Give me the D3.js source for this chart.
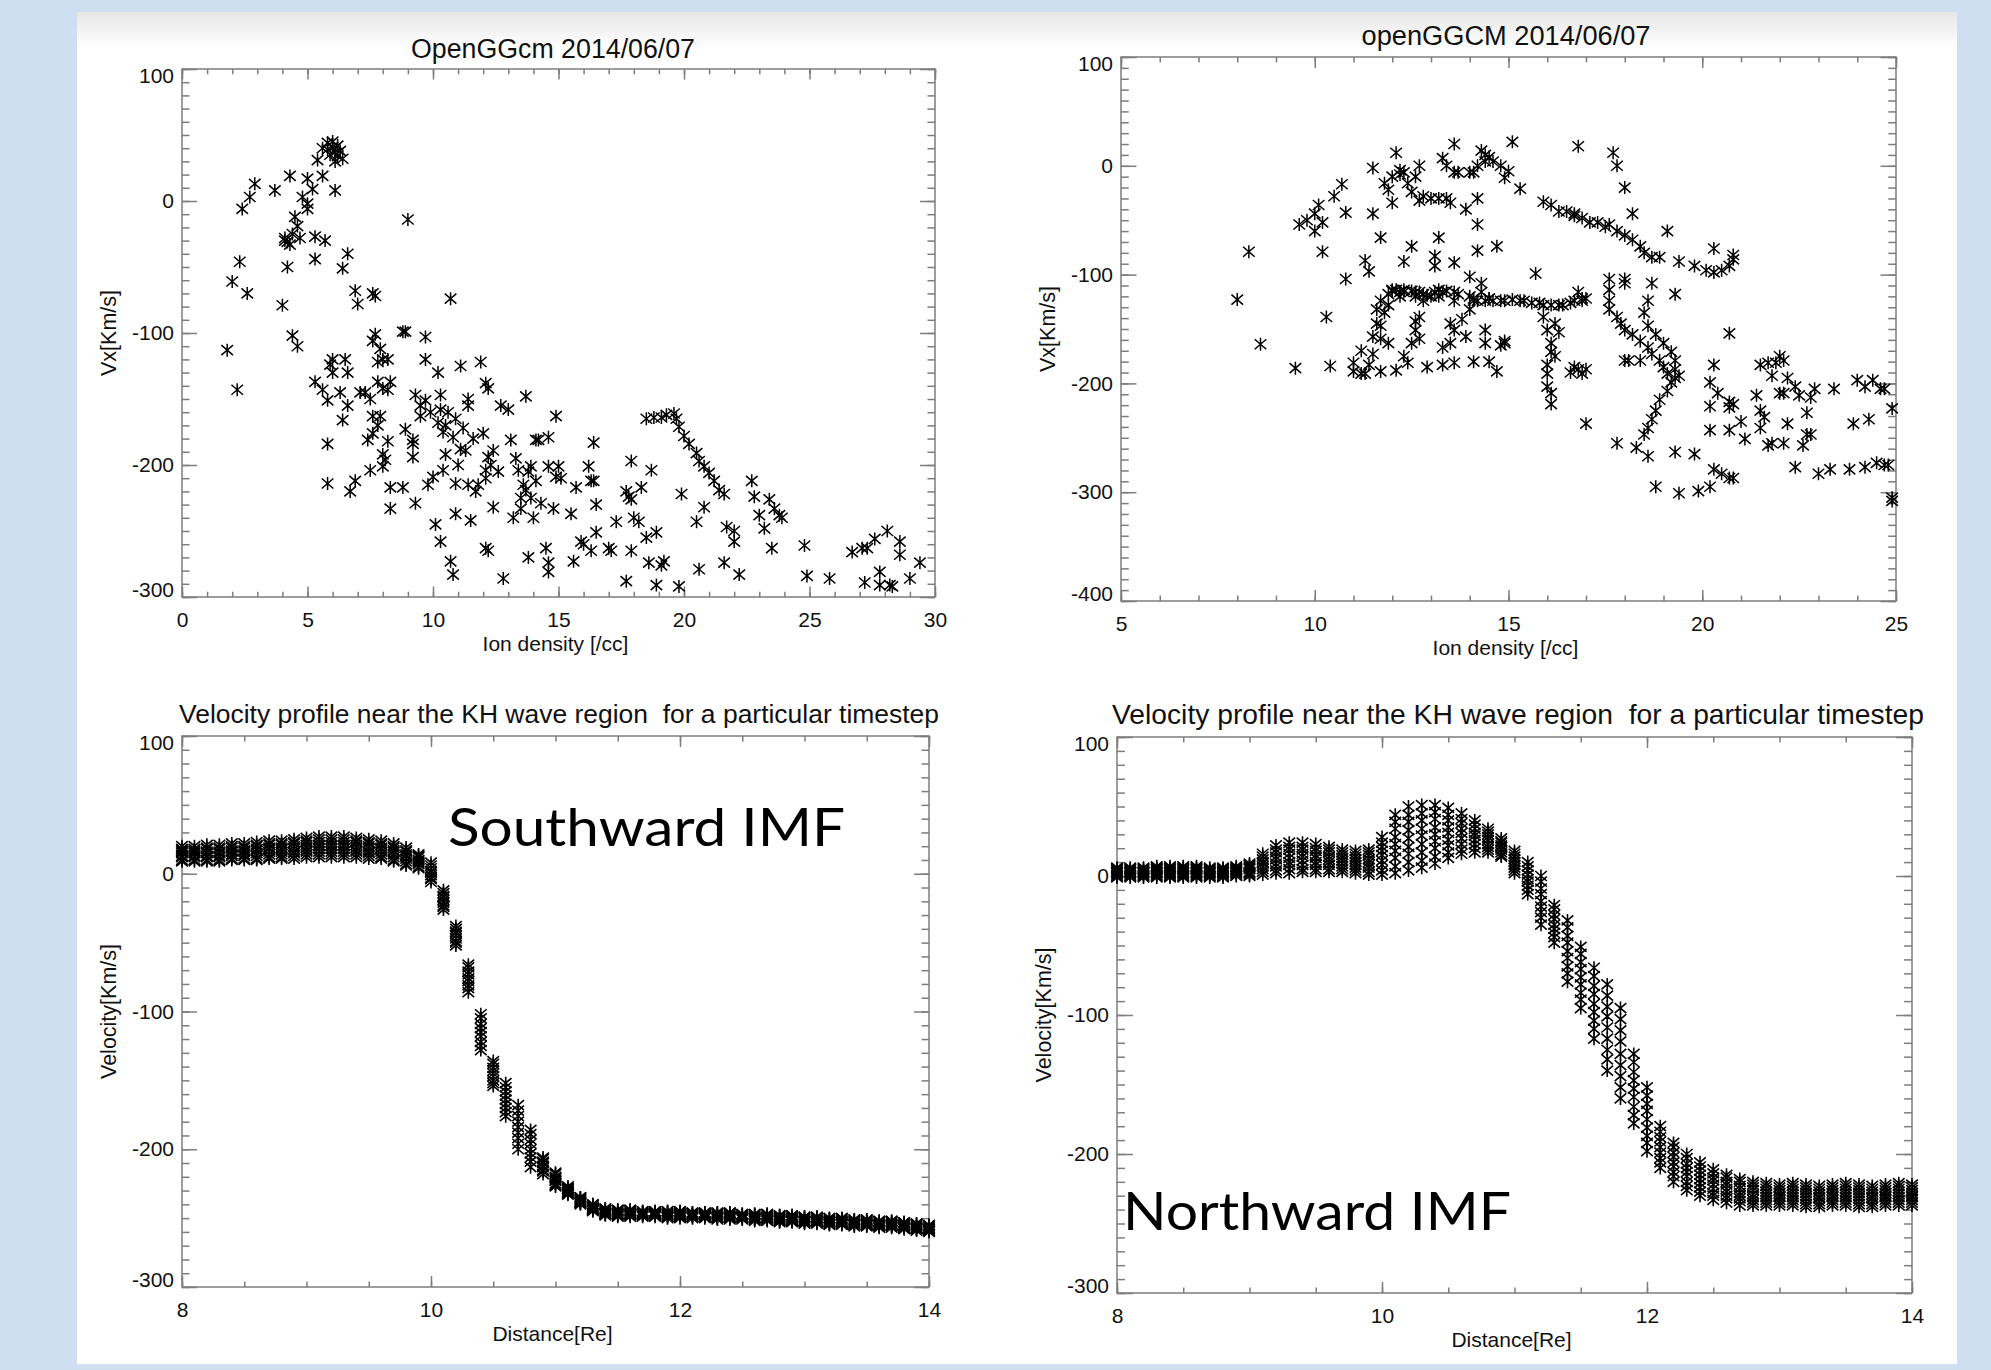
<!DOCTYPE html>
<html lang="en">
<head>
<meta charset="UTF-8">
<title>openGGCM velocity plots</title>
<script src="https://cdn.jsdelivr.net/npm/d3@7"></script>
<style>
    body{
        margin: 0;
        background: #cfdff1;
    }
    svg{
        display: block;
    }
    .lbl{
        font-family: "Liberation Sans", Arial, sans-serif;
        fill: #111;
    }
    .note{
        font-family: Lato, "Open Sans", sans-serif;
        fill: #000;
    }
</style>
</head>
<body>
<svg id="fig" width="1991" height="1370"></svg>
<script>
// ---- top-left scatter: [ion density, Vx] ----
const scatterLeft = [
    [1.8,-113],[2.2,-143],[2.0,-61],[2.3,-46],[2.6,-70],[2.4,-6],[2.7,3],[2.9,13],[3.7,8],[4.0,-79],[4.2,-50],[4.3,19],[4.4,-102],[4.6,-110],
    [4.1,-28],[4.2,-31],[4.4,-25],[4.5,-12],[4.6,-19],[4.7,-28],[4.8,3],[5.0,-2],[5.0,-6],[5.0,17],[5.2,9],[5.3,-44],[5.3,-27],[5.4,31],
    [5.6,19],[5.7,-30],[5.6,40],[6.1,8],[6.0,45],[6.1,37],[6.2,42],[5.8,44],[6.4,32],[6.2,34],[5.8,39],[6.0,41],[6.1,30],[6.3,38],[5.9,35],
    [4.1,-30],[4.3,-33],[6.4,-51],[6.6,-40],[6.9,-68],[7.0,-78],[7.6,-70],[7.7,-72],[9.0,-14],[10.7,-74],
    [5.8,-214],[5.8,-184],[5.3,-137],[5.6,-143],[5.8,-151],[6.0,-120],[6.0,-130],[5.9,-124],[6.5,-120],[6.6,-130],[6.3,-145],[6.4,-166],
    [6.6,-155],[7.1,-145],[7.3,-145],[7.5,-150],[7.4,-181],[7.5,-204],[6.9,-212],[6.7,-220],[7.6,-106],[7.7,-101],[7.8,-122],[7.9,-112],
    [8.0,-120],[8.2,-120],[7.8,-137],[8.0,-142],[8.2,-143],[8.3,-137],[7.6,-163],[7.9,-163],[7.8,-170],[7.6,-176],[8.0,-192],[8.1,-196],
    [8.0,-201],[8.2,-182],[8.3,-217],[8.3,-233],[8.8,-217],[8.8,-99],[8.9,-99],[8.9,-173],[9.2,-181],[9.2,-184],[9.2,-194],[9.3,-229],
    [9.3,-147],[9.5,-155],[9.7,-151],[9.5,-163],[9.7,-103],[9.7,-120],[9.8,-215],[10.0,-209],[10.2,-130],[10.3,-147],[10.2,-168],[10.3,-158],
    [10.1,-245],[10.3,-258],[10.4,-204],[10.5,-192],[10.5,-170],[10.7,-273],[10.8,-283],[10.9,-237],[10.8,-179],[10.9,-214],[11.1,-125],
    [11.1,-188],[11.3,-189],[11.4,-155],[11.4,-150],[11.4,-215],[11.5,-242],[11.7,-220],[11.9,-122],[12.1,-138],[12.2,-142],[12.0,-176],
    [12.1,-204],[12.1,-210],[12.2,-194],[12.4,-232],[12.1,-263],[12.2,-265],[12.4,-189],[12.7,-155],[12.8,-286],[13.0,-158],[13.1,-181],
    [13.2,-240],[13.4,-204],[13.5,-233],[13.6,-215],[13.7,-148],[13.7,-219],[13.8,-270],[13.9,-201],[14.1,-181],[14.1,-212],[14.2,-181],
    [14.3,-229],[14.5,-263],[14.6,-201],[14.6,-179],[14.6,-281],[14.6,-274],[14.8,-233],[14.9,-163],[14.9,-209],[15.0,-201],[15.1,-210],
    [15.5,-237],[15.6,-273],[15.7,-217],[15.9,-258],[16.0,-260],[16.2,-201],[16.3,-265],[16.3,-212],[16.4,-212],[16.4,-183],[16.5,-230],
    [16.5,-251],[17.0,-263],[17.1,-265],[17.3,-243],[17.7,-288],[17.7,-220],[17.8,-224],[17.9,-265],[17.9,-197],[17.9,-226],[18.0,-240],
    [18.2,-243],[18.3,-217],[18.5,-255],[18.6,-274],[18.7,-204],[18.9,-291],[18.9,-251],[19.1,-276],[19.2,-273],[19.8,-292],[19.9,-222],
    [20.5,-243],[20.6,-279],[20.8,-232],[21.6,-274],[21.7,-247],[22.0,-250],[22.0,-258],[22.2,-283],[22.7,-212],[22.8,-224],[23.0,-238],
    [23.2,-248],[23.4,-226],[23.5,-263],[23.6,-233],[23.8,-238],[23.9,-240],[24.8,-261],[24.9,-284],[25.8,-286],[26.7,-266],[27.1,-263],
    [27.2,-289],[27.3,-263],[27.6,-256],[27.8,-281],[27.8,-291],[28.1,-250],[28.2,-291],[28.3,-292],[28.6,-258],[28.6,-268],[29.0,-286],
    [29.4,-274],
    [18.5,-165],[18.8,-164],[19.1,-164],[19.3,-162],[19.6,-161],[19.7,-165],[19.8,-171],[20.0,-178],[20.2,-184],[20.5,-191],[20.6,-197],
    [20.8,-201],[21.0,-206],[21.2,-212],[21.4,-219],[21.6,-222],
    [10.6,-160],[10.9,-165],[11.2,-172],[11.0,-200],[11.6,-180],[10.4,-175],[9.9,-160],[11.8,-215],[12.3,-200],[12.6,-205],[13.3,-195],
    [13.5,-225],[13.9,-225],[14.0,-240],[13.8,-205]
]

// ---- top-right scatter: [ion density, Vx] ----
const scatterRight = [
    [8.0,-123],[8.3,-79],[8.6,-164],[9.5,-186],[9.6,-54],[9.8,-50],[10.0,-44],[10.0,-60],[10.1,-36],[10.2,-52],[10.2,-79],[10.3,-139],
    [10.4,-184],[10.5,-28],[10.7,-17],[10.8,-104],[10.8,-43],[11.0,-181],[11.0,-189],[11.2,-191],[11.3,-191],[11.2,-170],[11.3,-87],
    [11.4,-97],[11.5,-2],[11.5,-44],[11.7,-66],[11.5,-157],[11.6,-145],[11.6,-132],[11.7,-189],[11.7,-124],[11.8,-16],[11.9,-22],
    [11.9,-163],[12.0,-10],[12.0,-34],[12.0,-114],[12.1,12],[12.1,-188],[12.2,-8],[12.2,-120],[12.3,-114],[12.3,-88],[12.3,-175],
    [12.4,-16],[12.4,-181],[12.5,-74],[12.5,-24],[12.6,-143],[12.6,-116],[12.7,-159],[12.7,0],[12.7,-32],[12.8,-124],[12.9,-185],
    [13.0,-30],[13.0,-120],[13.1,-83],[13.1,-92],[13.2,-120],[13.2,-30],[13.2,-66],[13.3,7],[13.3,-167],[13.3,-183],[13.4,0],
    [13.5,-145],[13.5,-34],[13.6,-124],[13.6,20],[13.6,-89],[13.6,-181],[13.7,-6],[13.9,-40],[13.9,-157],[14.0,-102],[14.1,-180],
    [14.1,-6],[14.2,-78],[14.2,-54],[14.2,-30],[14.2,-124],[14.3,14],[14.4,10],[14.3,-108],[14.4,-151],[14.4,-163],[14.5,-180],
    [14.5,8],[14.5,-122],[14.7,-74],[14.7,-189],[14.8,0],[14.9,-163],[15.1,22],[14.9,-11],[15.3,-21],[15.7,-99],[15.9,-33],
    [16.0,-183],[16.1,-219],[16.1,-36],[16.2,-145],[16.2,-175],[16.3,-153],[16.3,-42],[16.7,-185],[16.7,-44],[16.8,18],[16.8,-116],
    [16.9,-124],[17.0,-237],[17.0,-187],[17.1,-52],[17.6,-54],[17.7,12],[17.8,0],[18.0,-20],[17.8,-255],[18.0,-179],[18.1,-179],
    [18.2,-44],[18.3,-259],[18.4,-179],[18.6,-267],[18.8,-295],[19.1,-60],[19.3,-118],[19.3,-263],[19.4,-301],[19.3,-195],[19.4,-193],
    [19.9,-299],[19.8,-265],[20.2,-295],[20.3,-279],[20.5,-283],[20.7,-287],[20.8,-287],[20.2,-243],[20.3,-183],[20.2,-199],[20.2,-221],
    [20.4,-209],[20.7,-217],[20.7,-222],[20.8,-219],[20.7,-243],[21.0,-235],[21.1,-251],[20.7,-154],[20.3,-76],[21.4,-211],[21.5,-183],
    [21.5,-225],[21.6,-231],[21.5,-241],[21.7,-257],[21.8,-255],[21.7,-181],[21.9,-181],[22.0,-175],[22.1,-179],[21.8,-193],[22.0,-209],
    [22.1,-209],[22.2,-195],[22.4,-203],[22.5,-211],[22.2,-237],[22.1,-255],[22.4,-277],[22.6,-257],[22.7,-227],[22.8,-213],[22.7,-247],
    [22.8,-247],[22.9,-205],[23.0,-283],[23.3,-279],[23.4,-205],[23.8,-279],[23.9,-237],[24.0,-197],[24.2,-277],[24.2,-203],[24.3,-233],
    [24.4,-197],[24.5,-273],[24.6,-205],[24.7,-205],[24.7,-275],[24.8,-275],[24.9,-223],[24.9,-305],[24.9,-308],
    [16.5,-42],[16.7,-46],[16.9,-48],[17.3,-52],[17.5,-56],[17.8,-60],[18.0,-64],[18.2,-68],[18.4,-74],[18.5,-80],[18.7,-84],[18.9,-84],
    [19.4,-88],[19.8,-92],[20.1,-96],[20.3,-98],[20.5,-96],[20.7,-92],[20.8,-86],[20.8,-82],
    [12.2,-4],[12.3,-6],[12.6,-10],[12.8,-28],[13.4,-30],[13.6,-6],[14.0,-6],[14.2,0],[14.4,4],[14.6,4],[15.0,-5],
    [11.9,-118],[12.0,-115],[12.1,-114],[12.2,-116],[12.3,-116],[12.5,-115],[12.6,-120],[12.7,-116],[12.8,-118],[12.9,-119],[13.1,-116],
    [13.2,-114],[13.3,-116],[13.4,-115],[13.6,-116],[13.7,-118],[14.0,-120],[14.1,-122],[14.3,-116],[14.4,-124],[14.5,-122],[14.6,-124],
    [14.8,-124],[14.9,-124],[15.1,-123],[15.3,-124],[15.4,-124],[15.6,-126],[15.8,-126],[15.9,-128],[16.1,-128],[16.3,-128],[16.4,-128],
    [16.6,-126],[16.7,-124],[16.9,-122],[17.0,-122],
    [17.6,-104],[17.6,-114],[17.6,-124],[17.6,-132],[17.8,-139],[17.9,-145],[18.0,-151],[18.2,-155],[18.4,-161],[18.6,-167],[18.7,-173],
    [18.9,-179],[19.0,-185],[19.1,-191],[19.2,-199],[19.1,-207],[18.9,-215],[18.8,-225],[18.7,-233],[18.6,-241],[18.5,-247],
    [18.7,-108],[18.6,-124],[18.5,-135],[18.6,-147],[18.8,-155],[19.0,-163],[19.2,-171],[19.3,-179],[19.3,-187],[18.0,-108],[18.0,-104],
    [11.4,-183],[11.5,-173],[11.7,-159],[11.7,-147],[11.8,-135],[11.9,-128],
    [13.5,-163],[13.6,-151],[13.8,-141],[14.0,-132],[14.1,-124],[12.5,-163],[12.6,-151],[12.7,-139],
    [15.9,-139],[16.0,-151],[16.1,-163],[16.1,-171],[16.0,-191],[16.0,-203],[16.1,-209],
    [14.8,-165],[14.9,-161],[16.6,-190],[16.9,-191],[16.8,-187]
]

// ---- velocity profiles: distance [Re] and overplotted cuts [km/s] ----
const distance = [8.0,8.1,8.2,8.3,8.4,8.5,8.6,8.7,8.8,8.9,9.0,9.1,9.2,9.3,9.4,9.5,9.6,9.7,9.8,9.9,
    10.0,10.1,10.2,10.3,10.4,10.5,10.6,10.7,10.8,10.9,11.0,11.1,11.2,11.3,11.4,11.5,11.6,11.7,11.8,11.9,
    12.0,12.1,12.2,12.3,12.4,12.5,12.6,12.7,12.8,12.9,13.0,13.1,13.2,13.3,13.4,13.5,13.6,13.7,13.8,13.9,14.0]

const southCuts = [
    [20,20,21,21,22,22,23,24,24,25, 26,27,27,27,26,25,24,22,19,14, 8,-12,-38,-66,-102,-136,-152,-168,-186,-206,
     -217,-227,-235,-240,-243,-244,-244,-245,-245,-245, -245,-246,-246,-246,-246,-247,-247,-247,-248,-248,
     -249,-249,-250,-250,-251,-251,-252,-252,-253,-254, -255],
    [18,18,19,19,20,20,21,22,22,23, 24,25,25,25,24,23,22,20,17,13, 6,-14,-40,-68,-105,-138,-155,-172,-189,-207,
     -218,-228,-235,-240,-243,-244,-244,-245,-245,-245, -245,-246,-246,-246,-246,-247,-247,-247,-248,-248,
     -249,-249,-250,-250,-251,-251,-252,-252,-253,-254, -255],
    [17,17,18,18,19,19,20,21,21,22, 23,23,23,23,23,22,21,19,16,12, 4,-16,-42,-71,-109,-141,-158,-176,-193,-209,
     -220,-229,-236,-241,-244,-245,-245,-246,-246,-246, -246,-247,-247,-247,-247,-248,-248,-248,-249,-249,
     -250,-250,-251,-251,-252,-252,-253,-253,-254,-255, -256],
    [16,16,16,16,17,17,18,19,19,20, 21,21,21,21,21,20,19,17,14,10, 2,-17,-43,-73,-112,-143,-161,-180,-196,-210,
     -221,-229,-237,-242,-245,-246,-246,-246,-246,-247, -247,-247,-247,-248,-248,-248,-249,-249,-250,-250,
     -251,-251,-252,-252,-253,-253,-254,-254,-255,-256, -257],
    [15,15,15,15,16,16,17,18,18,18, 19,20,20,20,19,18,18,16,13,9, 1,-19,-45,-76,-115,-145,-164,-184,-200,-212,
     -222,-230,-238,-243,-246,-247,-247,-247,-247,-248, -248,-248,-248,-249,-249,-249,-250,-250,-251,-251,
     -252,-252,-253,-253,-254,-254,-255,-255,-256,-257, -258],
    [13,13,13,13,14,14,15,16,16,16, 17,18,18,18,17,16,16,14,11,8, -1,-21,-47,-78,-118,-147,-167,-188,-203,-213,
     -223,-231,-238,-243,-246,-247,-247,-247,-247,-248, -248,-248,-248,-249,-249,-249,-250,-250,-251,-251,
     -252,-252,-253,-253,-254,-254,-255,-255,-256,-257, -258],
    [12,12,12,12,13,13,13,14,14,15, 16,16,16,16,16,15,14,12,9,7, -3,-23,-49,-81,-122,-150,-170,-192,-206,-215,
     -225,-232,-239,-244,-247,-248,-248,-248,-248,-249, -249,-249,-249,-250,-250,-250,-251,-251,-252,-252,
     -253,-253,-254,-254,-255,-255,-256,-256,-257,-258, -259],
    [10,10,10,10,11,11,11,12,12,13, 14,14,14,14,14,13,12,10,7,5, -4,-24,-50,-83,-125,-152,-173,-196,-209,-216,
     -226,-232,-239,-244,-247,-248,-248,-248,-248,-249, -249,-249,-249,-250,-250,-250,-251,-251,-252,-252,
     -253,-253,-254,-254,-255,-255,-256,-256,-257,-258, -259],
    [9,9,9,9,10,10,10,11,11,11, 12,12,12,12,12,11,11,9,6,4, -6,-26,-52,-86,-128,-154,-176,-200,-213,-218,
     -227,-233,-240,-245,-248,-249,-249,-249,-249,-250, -250,-250,-250,-251,-251,-251,-252,-252,-253,-253,
     -254,-254,-255,-255,-256,-256,-257,-257,-258,-259, -260]
]

const northCuts = [
    [6,6,6,7,7,7,7,6,6,7, 9,16,22,24,24,23,21,19,18,19, 28,44,50,51,51,49,45,40,34,27,
     18,10,0,-21,-32,-51,-66,-78,-95,-128, -152,-180,-192,-200,-206,-211,-215,-218,-220,-221,
     -222,-221,-222,-223,-222,-221,-222,-223,-222,-221, -222],
    [5,5,5,6,6,6,6,5,5,6, 8,14,19,21,21,20,19,17,16,17, 24,39,44,45,46,44,41,37,32,25,
     16,7,-4,-24,-37,-56,-72,-86,-103,-134, -158,-184,-195,-203,-209,-214,-217,-220,-222,-223,
     -224,-223,-224,-225,-224,-223,-224,-225,-224,-223, -224],
    [4,4,4,5,5,5,5,4,4,5, 7,12,17,19,19,18,17,15,14,15, 21,34,39,40,41,40,38,34,30,24,
     14,4,-9,-28,-43,-62,-79,-94,-111,-141, -164,-188,-199,-207,-212,-217,-220,-223,-224,-225,
     -226,-225,-226,-227,-226,-225,-226,-227,-226,-225, -226],
    [3,3,3,4,4,4,4,3,3,4, 6,10,14,16,16,15,14,13,12,12, 18,28,33,34,35,35,34,31,28,22,
     12,1,-13,-31,-48,-67,-85,-101,-119,-147, -169,-191,-202,-210,-215,-219,-222,-225,-226,-227,
     -228,-227,-228,-229,-228,-227,-228,-229,-228,-227, -228],
    [3,3,3,3,3,3,3,3,3,4, 5,9,12,13,14,13,12,11,10,10, 15,23,27,29,30,31,31,29,26,21,
     10,-2,-18,-35,-54,-73,-92,-109,-128,-153, -175,-195,-206,-213,-218,-222,-225,-228,-229,-229,
     -230,-229,-230,-231,-230,-229,-230,-231,-230,-229, -230],
    [2,2,2,2,2,2,2,2,2,3, 3,7,9,10,11,10,10,9,8,8, 11,18,21,23,25,26,27,26,23,19,
     8,-4,-22,-38,-59,-78,-98,-117,-136,-159, -181,-199,-209,-216,-221,-225,-227,-230,-231,-231,
     -231,-231,-232,-232,-231,-231,-232,-232,-231,-231, -231],
    [1,1,1,1,1,1,1,1,1,2, 2,5,7,8,8,8,8,7,6,6, 8,13,16,17,20,22,23,23,21,17,
     6,-7,-26,-41,-65,-84,-104,-125,-144,-166, -187,-203,-213,-220,-224,-228,-230,-232,-233,-233,
     -233,-233,-234,-234,-233,-233,-234,-234,-233,-233, -233],
    [0,0,0,0,0,0,0,0,0,1, 1,3,4,5,5,5,5,5,4,3, 4,7,10,11,14,17,19,20,19,15,
     4,-10,-30,-44,-70,-89,-110,-132,-152,-172, -192,-206,-216,-223,-227,-230,-232,-234,-235,-235,
     -235,-235,-236,-236,-235,-235,-236,-236,-235,-235, -235],
    [-1,-1,-1,-1,-1,-1,-1,-1,-1,0, 0,1,2,2,3,3,3,3,2,1, 1,2,4,6,9,13,16,17,17,14,
     2,-13,-35,-48,-76,-95,-117,-140,-160,-178, -198,-210,-220,-226,-230,-233,-235,-237,-237,-237,
     -237,-237,-238,-238,-237,-237,-238,-238,-237,-237, -237]
]

const svg = d3.select("#fig")

// slide background
svg.append("rect").attr("width", 1991).attr("height", 1370).attr("fill", "#cfdff1")
let grad = svg.append("defs").append("linearGradient")
    .attr("id", "topfade").attr("x1", 0).attr("y1", 0).attr("x2", 0).attr("y2", 1)
grad.append("stop").attr("offset", "0%").attr("stop-color", "#e6e6e6")
grad.append("stop").attr("offset", "100%").attr("stop-color", "#ffffff")
svg.append("rect").attr("x", 77).attr("y", 12).attr("width", 1880).attr("height", 1352).attr("fill", "#fff")
svg.append("rect").attr("x", 77).attr("y", 12).attr("width", 1880).attr("height", 36).attr("fill", "url(#topfade)")

// IDL style asterisk (psym=2)
const star = "M0,-6.5V6.5M-5.8,-5L5.8,5M-5.8,5L5.8,-5"
const fmt = d => String(d)

function panel(cfg, series){
    let x = d3.scaleLinear().domain(cfg.xDom).range([cfg.left, cfg.right])
    let y = d3.scaleLinear().domain(cfg.yDom).range([cfg.bottom, cfg.top])
    let w = cfg.right - cfg.left, h = cfg.bottom - cfg.top
    let g = svg.append("g")

    // tick lengths are 2% of the plot size, minor ones half that
    let tx = h * 0.02, ty = w * 0.02
    let xMinor = d3.range(cfg.xDom[0], cfg.xDom[1] + 1e-6, cfg.xMinorStep)
    let yMinor = d3.range(cfg.yDom[0], cfg.yDom[1] + 1e-6, cfg.yMinorStep)
    let xMajor = d3.range(cfg.xDom[0], cfg.xDom[1] + 1e-6, cfg.xStep)
    let yMajor = d3.range(cfg.yDom[0], cfg.yDom[1] + 1e-6, cfg.yStep)

    let axes = [
        [d3.axisBottom(x).tickValues(xMinor).tickSizeInner(-tx/2), cfg.bottom, "x"],
        [d3.axisTop(x).tickValues(xMinor).tickSizeInner(-tx/2), cfg.top, "x"],
        [d3.axisTop(x).tickValues(xMajor).tickSizeInner(-tx), cfg.top, "x"],
        [d3.axisLeft(y).tickValues(yMinor).tickSizeInner(-ty/2), cfg.left, "y"],
        [d3.axisRight(y).tickValues(yMinor).tickSizeInner(-ty/2), cfg.right, "y"],
        [d3.axisRight(y).tickValues(yMajor).tickSizeInner(-ty), cfg.right, "y"]
    ]
    axes.forEach(function(a){
        let ag = g.append("g")
            .attr("transform", a[2] === "x" ? `translate(0,${a[1]})` : `translate(${a[1]},0)`)
            .call(a[0].tickSizeOuter(0).tickFormat(""))
        ag.select(".domain").remove()
        ag.selectAll("line").attr("stroke", "#7d7d7d").attr("stroke-width", 1.5)
    })

    // labelled axes
    let bx = g.append("g").attr("transform", `translate(0,${cfg.bottom})`)
        .call(d3.axisBottom(x).tickValues(xMajor).tickFormat(fmt).tickSizeInner(-tx).tickSizeOuter(0).tickPadding(15.5))
    let ly = g.append("g").attr("transform", `translate(${cfg.left},0)`)
        .call(d3.axisLeft(y).tickValues(yMajor).tickFormat(fmt).tickSizeInner(-ty).tickSizeOuter(0).tickPadding(8))
    ;[bx, ly].forEach(function(ag){
        ag.select(".domain").remove()
        ag.selectAll("line").attr("stroke", "#7d7d7d").attr("stroke-width", 1.5)
        ag.selectAll("text").attr("class", "lbl").attr("font-size", 21).attr("font-family", null).attr("fill", null)
        ag.attr("font-family", null).attr("font-size", null)
    })
    // end labels sit inside the axis range
    ly.selectAll("text").attr("y", d => d === cfg.yDom[1] ? 7 : (d === cfg.yDom[0] ? -7 : 0))

    // frame
    g.append("rect")
        .attr("x", cfg.left).attr("y", cfg.top).attr("width", w).attr("height", h)
        .attr("fill", "none").attr("stroke", "#7d7d7d").attr("stroke-width", 1.5)

    // markers
    series.forEach(function(pts){
        g.append("g").selectAll("path").data(pts).join("path")
            .attr("d", star)
            .attr("transform", d => `translate(${x(d[0])},${y(d[1])})`)
            .attr("fill", "none").attr("stroke", "#000").attr("stroke-width", cfg.markW)
    })

    // titles
    g.append("text").attr("class", "lbl")
        .attr("x", cfg.titleX).attr("y", cfg.titleY)
        .attr("text-anchor", "middle").attr("font-size", cfg.titleSize)
        .attr("textLength", cfg.titleW).attr("lengthAdjust", "spacingAndGlyphs")
        .style("white-space", "pre")
        .text(cfg.title)
    g.append("text").attr("class", "lbl")
        .attr("x", (cfg.left + cfg.right) / 2 - 3).attr("y", cfg.bottom + 47)
        .attr("dy", "0.35em").attr("text-anchor", "middle").attr("font-size", 21)
        .text(cfg.xTitle)
    g.append("text").attr("class", "lbl")
        .attr("transform", `translate(${cfg.left - 74},${(cfg.top + cfg.bottom) / 2}) rotate(-90)`)
        .attr("dy", "0.35em").attr("text-anchor", "middle").attr("font-size", 21.5)
        .text(cfg.yTitle)
}

panel({left: 182, right: 935, top: 69, bottom: 597, xDom: [0, 30], yDom: [-300, 100],
       xStep: 5, xMinorStep: 1, yStep: 100, yMinorStep: 10, markW: 1.5,
       title: "OpenGGcm 2014/06/07", titleX: 553, titleY: 58, titleSize: 27, titleW: 284,
       xTitle: "Ion density [/cc]", yTitle: "Vx[Km/s]"}, [scatterLeft])

panel({left: 1121, right: 1896, top: 57, bottom: 601, xDom: [5, 25], yDom: [-400, 100],
       xStep: 5, xMinorStep: 1, yStep: 100, yMinorStep: 10, markW: 1.5,
       title: "openGGCM 2014/06/07", titleX: 1506, titleY: 45, titleSize: 27, titleW: 289,
       xTitle: "Ion density [/cc]", yTitle: "Vx[Km/s]"}, [scatterRight])

const south = southCuts.map(c => distance.map((d, i) => [d, c[i]]))
const north = northCuts.map(c => distance.map((d, i) => [d, c[i]]))

panel({left: 182, right: 929, top: 736, bottom: 1287, xDom: [8, 14], yDom: [-300, 100],
       xStep: 2, xMinorStep: 0.5, yStep: 100, yMinorStep: 10, markW: 1.6,
       title: "Velocity profile near the KH wave region  for a particular timestep", titleX: 559, titleY: 723, titleSize: 26.5, titleW: 760,
       xTitle: "Distance[Re]", yTitle: "Velocity[Km/s]"}, south)

panel({left: 1117, right: 1912, top: 737, bottom: 1293, xDom: [8, 14], yDom: [-300, 100],
       xStep: 2, xMinorStep: 0.5, yStep: 100, yMinorStep: 10, markW: 1.6,
       title: "Velocity profile near the KH wave region  for a particular timestep", titleX: 1518, titleY: 724, titleSize: 28, titleW: 812,
       xTitle: "Distance[Re]", yTitle: "Velocity[Km/s]"}, north)

// slide annotations
svg.append("text").attr("class", "note")
    .attr("x", 448).attr("y", 846).attr("font-size", 53)
    .attr("textLength", 397).attr("lengthAdjust", "spacingAndGlyphs")
    .text("Southward IMF")
svg.append("text").attr("class", "note")
    .attr("x", 1123).attr("y", 1230).attr("font-size", 53)
    .attr("textLength", 388).attr("lengthAdjust", "spacingAndGlyphs")
    .text("Northward IMF")
</script>
</body>
</html>
